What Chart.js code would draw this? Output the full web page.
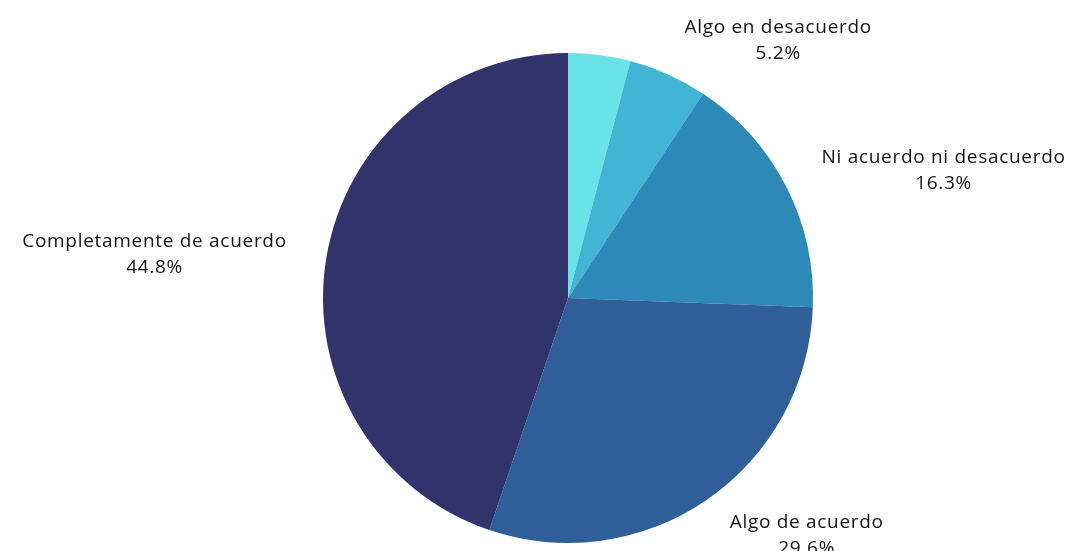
<!DOCTYPE html>
<html>
<head>
<meta charset="utf-8">
<script src="https://cdn.jsdelivr.net/npm/chart.js@4"></script>
<style>
  html, body { margin: 0; padding: 0; background: #fff; }
  #wrap { width: 1068px; height: 551px; }
</style>
</head>
<body>
<div id="wrap"><canvas id="pieChart"></canvas></div>
<script>
// Categorías y porcentajes
const categorias = [
    'Completamente en desacuerdo',
    'Algo en desacuerdo',
    'Ni acuerdo ni desacuerdo',
    'Algo de acuerdo',
    'Completamente de acuerdo'
];
const porcentajes = [4.1, 5.2, 16.3, 29.6, 44.8];
const mostrarEtiqueta = [false, true, true, true, true];
const colores = ['#6AE3E8', '#42B5D5', '#2D8AB8', '#2E5F98', '#30346A'];

// Etiquetas fuera del pastel, texto horizontal
const etiquetasFuera = {
    id: 'etiquetasFuera',
    afterDatasetsDraw(chart) {
        const ctx = chart.ctx;
        const meta = chart.getDatasetMeta(0);
        ctx.save();
        ctx.font = '19px "Open Sans"';
        ctx.letterSpacing = '0.7px';
        ctx.fillStyle = '#141414';
        ctx.textBaseline = 'middle';
        meta.data.forEach((arc, i) => {
            if (!mostrarEtiqueta[i]) return;
            const p = arc.getProps(['x', 'y', 'startAngle', 'endAngle', 'outerRadius'], true);
            const mid = (p.startAngle + p.endAngle) / 2;
            const r = p.outerRadius + 40;
            const ax = p.x + Math.cos(mid) * r;
            const ay = p.y + Math.sin(mid) * r + 3;
            const l1 = categorias[i];
            const l2 = porcentajes[i].toFixed(1) + '%';
            const w = Math.max(ctx.measureText(l1).width, ctx.measureText(l2).width);
            const cxText = Math.cos(mid) >= 0 ? ax + w / 2 : ax - w / 2;
            ctx.textAlign = 'center';
            ctx.fillText(l1, cxText, ay - 13);
            ctx.fillText(l2, cxText, ay + 13);
        });
        ctx.restore();
    }
};

new Chart(document.getElementById('pieChart').getContext('2d'), {
    type: 'pie',
    data: {
        labels: categorias,
        datasets: [{
            data: porcentajes,
            backgroundColor: colores,
            borderWidth: 0
        }]
    },
    options: {
        responsive: true,
        maintainAspectRatio: false,
        animation: false,
        layout: { padding: { top: 53, bottom: 8, left: 323, right: 255 } },
        plugins: {
            legend: { display: false },
            tooltip: { enabled: false }
        }
    },
    plugins: [etiquetasFuera]
});
</script>
</body>
</html>
